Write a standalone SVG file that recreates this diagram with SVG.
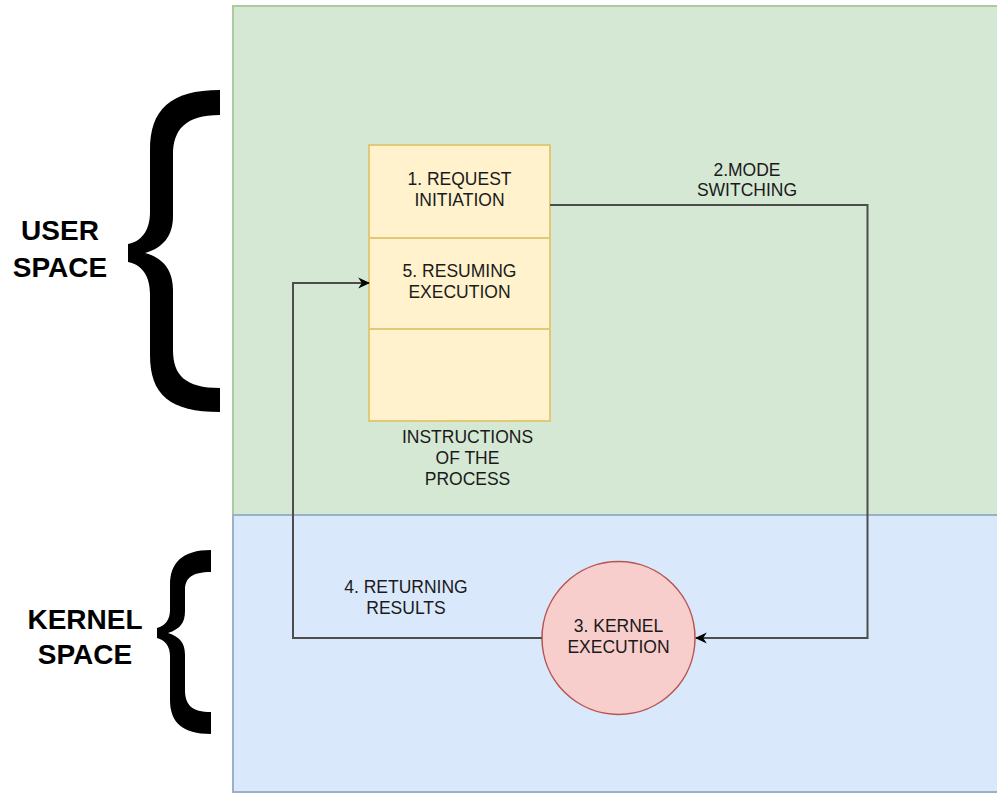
<svg xmlns="http://www.w3.org/2000/svg" width="997" height="793" viewBox="0 0 997 793">
<defs>
<style>
.t{font-family:"Liberation Sans",Arial,sans-serif;font-size:17.5px;fill:#1a1a1a;text-anchor:middle}
.big{font-family:"Liberation Sans",Arial,sans-serif;font-size:28px;font-weight:bold;fill:#000;text-anchor:middle}
.edge{fill:none;stroke:#4d4d4d;stroke-width:2}
.cell{fill:#fff2cc;stroke:#e2c97a;stroke-width:2}
</style>
<marker id="arr" viewBox="0 0 10 10" refX="9" refY="5" markerWidth="12" markerHeight="12" markerUnits="userSpaceOnUse" orient="auto">
<path d="M0,0.5 L10,5 L0,9.5 L3,5 Z" fill="#000"/>
</marker>
</defs>
<rect width="997" height="793" fill="#fff"/>
<g id="user-space">
<rect x="233" y="6" width="770" height="509" fill="#d5e8d4" stroke="#a9cb9f" stroke-width="2"/>
</g>
<g id="kernel-space">
<rect x="233" y="515" width="770" height="277" fill="#dae8fc" stroke="#98b0c8" stroke-width="2"/>
</g>
<g id="user-brace">
<path d="M220,90 C170,90 150,110 150,150 L150,212 C150,232 140,242 128,244 L128,262 C140,264 150,274 150,294 L150,355 C150,395 170,412 220,412 L220,388 C185,388 173,375 173,350 L173,290 C173,270 163,258 145,253 C163,248 173,236 173,216 L173,155 C173,130 185,115 220,115 Z" fill="#000"/>
<text class="big" x="60" y="240">USER</text>
<text class="big" x="60" y="277">SPACE</text>
</g>
<g id="kernel-brace">
<path d="M211,550 C182,550 170,563 170,585 L170,610 C170,620 165,626 157,628 L157,638 C165,640 170,646 170,656 L170,700 C170,722 182,734 211,734 L211,712 C192,712 185,705 185,690 L185,655 C185,643 180,637 168,633 C180,629 185,623 185,611 L185,590 C185,578 192,572 211,572 Z" fill="#000"/>
<text class="big" x="85" y="629">KERNEL</text>
<text class="big" x="85" y="664">SPACE</text>
</g>
<g id="process">
<rect class="cell" x="369" y="145" width="181" height="93"/>
<rect class="cell" x="369" y="238" width="181" height="91"/>
<rect class="cell" x="369" y="329" width="181" height="92"/>
<text class="t" x="459.5" y="185">1. REQUEST</text>
<text class="t" x="459.5" y="206">INITIATION</text>
<text class="t" x="459.5" y="277">5. RESUMING</text>
<text class="t" x="459.5" y="298">EXECUTION</text>
<text class="t" x="467.5" y="443">INSTRUCTIONS</text>
<text class="t" x="467.5" y="464">OF THE</text>
<text class="t" x="467.5" y="485">PROCESS</text>
</g>
<g id="kernel-execution">
<circle cx="618.5" cy="638" r="76.5" fill="#f8cecc" stroke="#b85450" stroke-width="1.5"/>
<text class="t" x="618.5" y="632">3. KERNEL</text>
<text class="t" x="618.5" y="653">EXECUTION</text>
</g>
<g id="connectors">
<path class="edge" d="M550,205 L867.5,205 L867.5,638 L696,638" marker-end="url(#arr)"/>
<path class="edge" d="M542,638 L293,638 L293,283 L369,283" marker-end="url(#arr)"/>
<text class="t" x="747" y="176">2.MODE</text>
<text class="t" x="747" y="196">SWITCHING</text>
<text class="t" x="406" y="593">4. RETURNING</text>
<text class="t" x="406" y="614">RESULTS</text>
</g>
</svg>
